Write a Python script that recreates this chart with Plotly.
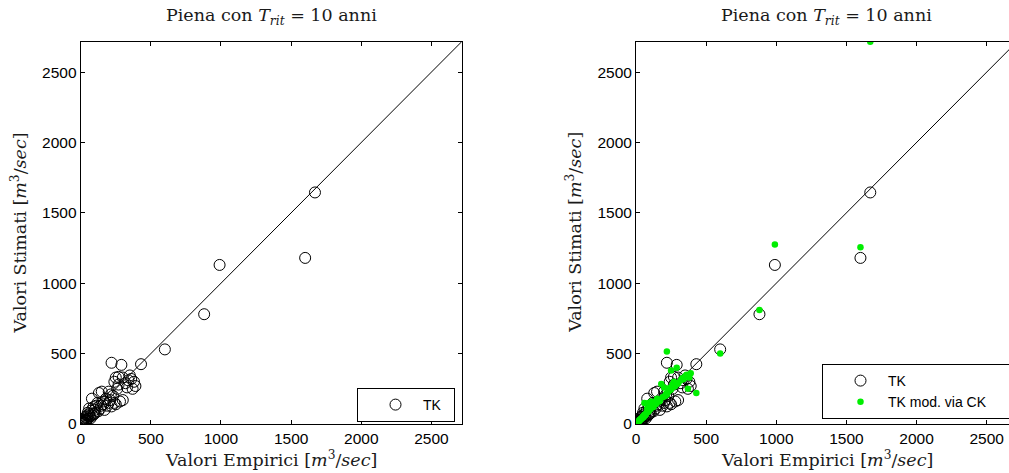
import plotly.graph_objects as go

# ---------------- data ----------------
valori_empirici = [1670, 990, 1600, 880, 600, 430, 220, 290, 250, 270, 300, 360, 380, 370, 390,
                   240, 340, 260, 230, 200, 280, 240, 300, 150, 130, 80, 180, 210, 160, 120,
                   190, 220, 140, 110, 100, 90, 170, 75, 60, 65, 50, 55, 45, 40, 35,
                   30, 25, 20, 15, 10, 12, 8, 5, 18, 28, 38, 48, 70, 85, 95,
                   105, 125, 145, 165, 200, 250, 270, 320, 350, 330, 60, 90, 215, 3, 22]
stimati_tk = [1645, 1130, 1180, 780, 530, 425, 435, 420, 330, 335, 330, 320, 300, 250, 270,
              300, 310, 250, 200, 230, 160, 150, 170, 230, 220, 180, 180, 170, 140, 150,
              130, 125, 110, 130, 100, 120, 100, 95, 70, 55, 80, 40, 60, 30, 50,
              25, 40, 15, 25, 10, 5, 18, 3, 8, 12, 20, 35, 40, 60, 70,
              80, 90, 130, 160, 150, 140, 280, 290, 345, 260, 110, 75, 210, 2, 30]
stimati_tk_mod = [2716, 1275, 1255, 810, 500, 220, 515, 400, 380, 300, 290, 350, 330, 250, 360,
                  255, 320, 280, 230, 260, 270, 240, 290, 180, 150, 110, 285, 200, 170, 130,
                  190, 210, 140, 160, 105, 90, 165, 80, 150, 60, 55, 50, 45, 40, 38,
                  30, 28, 20, 15, 10, 12, 8, 5, 18, 27, 35, 47, 70, 85, 100,
                  110, 120, 145, 160, 195, 245, 265, 310, 340, 325, 65, 150, 215, 3, 22]
tick_vals = [0, 500, 1000, 1500, 2000, 2500]
titolo = "Piena con <i>T</i><sub><i>rit</i></sub> = 10 anni"
label_x = "Valori Empirici [<i>m</i><sup>3</sup>/<i>sec</i>]"
label_y = "Valori Stimati [<i>m</i><sup>3</sup>/<i>sec</i>]"
nome_tk = "TK"
nome_mod = "TK mod. via CK"

# ---------------- layout geometry (pixels) ----------------
W, H = 1009, 473
ax_w = 381.0
left0 = 80.7
right0 = 636.0
top_px, bot_px = 41.7, 424.0

vmax = max(max(valori_empirici), max(stimati_tk), max(stimati_tk_mod))
right_cut = vmax * (W - right0) / ax_w  # right panel is cut by the image border

serif = "DejaVu Serif, Liberation Serif, serif"
sans = "Liberation Sans, Arial, Helvetica, sans-serif"
NB = "\u00a0"

fig = go.Figure()

# left panel
fig.add_trace(go.Scatter(x=[0, vmax], y=[0, vmax], mode="lines",
                         line=dict(color="black", width=1), showlegend=False,
                         xaxis="x", yaxis="y", hoverinfo="skip"))
fig.add_trace(go.Scatter(x=valori_empirici, y=stimati_tk, mode="markers", name=nome_tk + NB * 2,
                         marker=dict(symbol="circle-open", size=11, color="black",
                                     line=dict(width=1, color="black")),
                         xaxis="x", yaxis="y", legend="legend"))
# right panel
fig.add_trace(go.Scatter(x=[0, vmax], y=[0, vmax], mode="lines",
                         line=dict(color="black", width=1), showlegend=False,
                         xaxis="x2", yaxis="y2", hoverinfo="skip"))
fig.add_trace(go.Scatter(x=valori_empirici, y=stimati_tk, mode="markers", name=nome_tk,
                         marker=dict(symbol="circle-open", size=11, color="black",
                                     line=dict(width=1, color="black")),
                         xaxis="x2", yaxis="y2", legend="legend2"))
fig.add_trace(go.Scatter(x=valori_empirici, y=stimati_tk_mod, mode="markers",
                         name=nome_mod + NB * 8,
                         marker=dict(symbol="circle", size=6.5, color="#00ee00"),
                         xaxis="x2", yaxis="y2", legend="legend2"))

ydom = [1 - bot_px / H, 1 - top_px / H]
xdom1 = [left0 / W, (left0 + ax_w) / W]
xdom2 = [right0 / W, 1.0]

common = dict(showline=True, linecolor="black", linewidth=1, ticks="inside", ticklen=4,
              tickcolor="black", tickwidth=1, showgrid=False, zeroline=False,
              tickvals=tick_vals, tickformat="d",
              tickfont=dict(family=sans, size=15.5, color="black"))

leg_common = dict(xanchor="left", yanchor="top", bordercolor="black", borderwidth=1,
                  bgcolor="white", font=dict(family=sans, size=14, color="black"),
                  itemwidth=45, tracegroupgap=0, indentation=10)

fig.update_layout(
    width=W, height=H, plot_bgcolor="white", paper_bgcolor="white",
    margin=dict(l=0, r=0, t=0, b=0, autoexpand=False),
    xaxis=dict(domain=xdom1, range=[0, vmax], anchor="y", mirror="ticks", **common),
    yaxis=dict(domain=ydom, range=[0, vmax], anchor="x", mirror="ticks", **common),
    xaxis2=dict(domain=xdom2, range=[0, right_cut], anchor="y2", mirror="ticks", **common),
    yaxis2=dict(domain=ydom, range=[0, vmax], anchor="x2", mirror=False, **common),
    legend=dict(x=357 / W, y=1 - 388 / H, **leg_common),
    legend2=dict(x=822 / W, y=1 - 364 / H, **leg_common),
    showlegend=True,
)

annots = []
tfont = dict(family=serif, size=17.5, color="#1a1a1a")
for x0 in (left0, right0):
    cx = (x0 + ax_w / 2) / W
    annots.append(dict(text=titolo, x=cx, y=1 - 16 / H, xref="paper", yref="paper",
                       xanchor="center", yanchor="middle", showarrow=False, font=tfont))
    annots.append(dict(text=label_x, x=cx, y=1 - 459 / H, xref="paper", yref="paper",
                       xanchor="center", yanchor="middle", showarrow=False, font=tfont))
    annots.append(dict(text=label_y, x=(x0 - 62) / W, y=1 - ((top_px + bot_px) / 2) / H,
                       xref="paper", yref="paper", xanchor="center", yanchor="middle",
                       textangle=-90, showarrow=False, font=tfont))
fig.update_layout(annotations=annots)

fig.write_html("out.html")
